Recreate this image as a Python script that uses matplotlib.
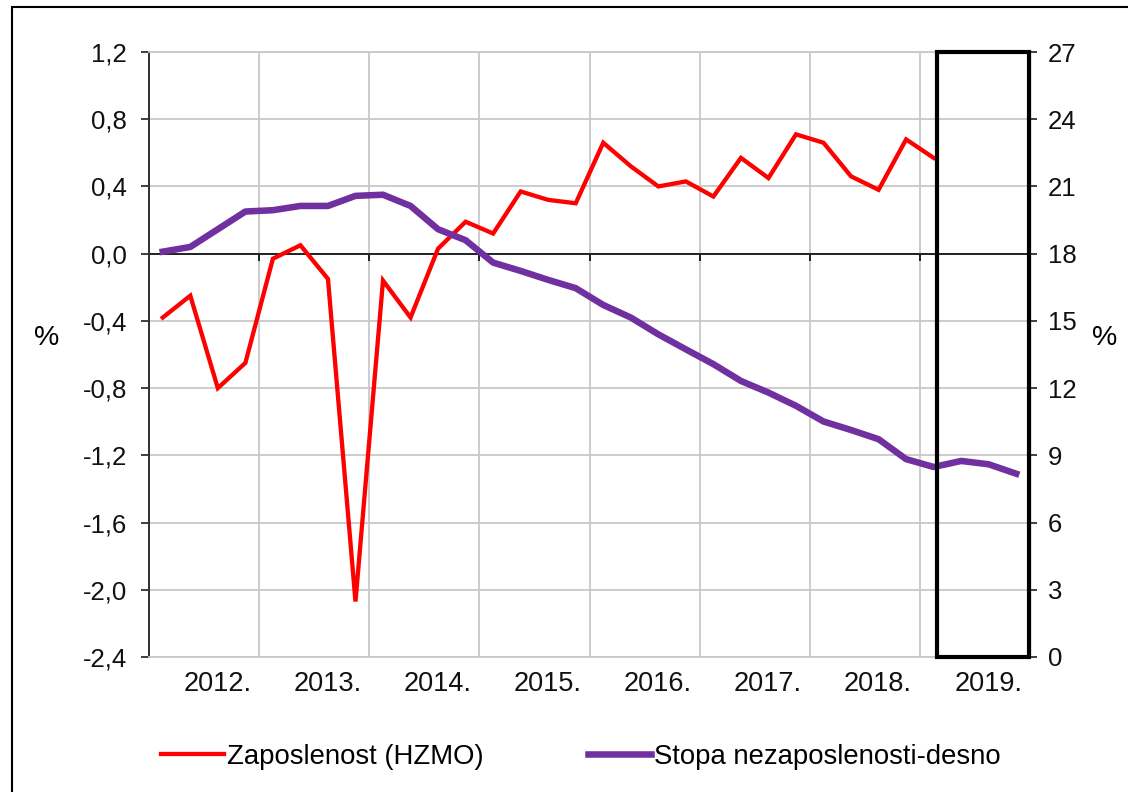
import matplotlib
matplotlib.use("Agg")
import matplotlib.pyplot as plt
from matplotlib.patches import Rectangle
from matplotlib.lines import Line2D
import numpy as np

plt.rcParams['font.family'] = ['Liberation Sans', 'DejaVu Sans']

# ---- data (quarterly, starting 2012 Q1) ----
years = [2012, 2013, 2014, 2015, 2016, 2017, 2018, 2019]
year_labels = ["2012.", "2013.", "2014.", "2015.", "2016.", "2017.", "2018.", "2019."]

zaposlenost = [-0.38, -0.25, -0.80, -0.65, -0.03, 0.05, -0.15, -2.07,
               -0.16, -0.38, 0.03, 0.19, 0.12, 0.37, 0.32, 0.30,
               0.66, 0.52, 0.40, 0.43, 0.34, 0.57, 0.45, 0.71,
               0.66, 0.46, 0.38, 0.68, 0.57]

stopa = [18.09, 18.30, 19.09, 19.88, 19.94, 20.13, 20.13, 20.58,
         20.63, 20.13, 19.09, 18.60, 17.60, 17.23, 16.83, 16.46,
         15.71, 15.15, 14.40, 13.73, 13.07, 12.32, 11.80, 11.21,
         10.51, 10.13, 9.72, 8.83, 8.48, 8.75, 8.60, 8.18]

left_ticks = [-2.4, -2.0, -1.6, -1.2, -0.8, -0.4, 0.0, 0.4, 0.8, 1.2]
right_ticks = [0, 3, 6, 9, 12, 15, 18, 21, 24, 27]

legend_labels = ["Zaposlenost (HZMO)", "Stopa nezaposlenosti-desno"]

# ---- figure ----
W, H = 1128, 792
fig = plt.figure(figsize=(W / 100, H / 100), dpi=100)
ax = fig.add_axes([149 / W, 1 - 657 / H, (1030 - 149) / W, (657 - 52) / H])

x_red = [years[0] + (i + 0.5) / 4 for i in range(len(zaposlenost))]
x_pur = [years[0] + (i + 0.5) / 4 for i in range(len(stopa))]

ax.set_xlim(years[0], years[-1] + 1)
ax.set_ylim(left_ticks[0], left_ticks[-1])

grid_c = '#c8c8c8'
for v in left_ticks:
    if v != 0:
        ax.axhline(v, color=grid_c, lw=1.3, zorder=0)
for y in years[1:]:
    ax.axvline(y, color=grid_c, lw=1.3, zorder=0)
ax.axhline(0, color='#202020', lw=1.4, zorder=1)
# small tick marks on the zero line at year boundaries
ax.vlines(years[1:] + [years[-1] + 1], -0.045, 0, color='#202020', lw=1.4, zorder=1)

ax.set_yticks(left_ticks)
ax.set_yticklabels([f"{v:.1f}".replace('.', ',').replace('-0,0', '0,0') for v in left_ticks])
ax.tick_params(axis='y', direction='out', length=6, width=1.3, color='#303030',
               labelsize=18.5, pad=10, labelcolor='#111111')
ax.set_xticks([])
for s in ['top', 'bottom', 'right']:
    ax.spines[s].set_color(grid_c)
    ax.spines[s].set_linewidth(1.3)
ax.spines['left'].set_color('#303030')
ax.spines['left'].set_linewidth(1.4)

# year labels below the plot
for y, lab in zip(years, year_labels):
    ax.text(y + 0.62, -0.045, lab, transform=ax.get_xaxis_transform(),
            ha='center', va='center', fontsize=19.5, color='#111111')

ax.plot(x_red, zaposlenost, color='#FF0000', lw=3.1, zorder=3, solid_joinstyle='miter')

ax2 = ax.twinx()
ax2.set_ylim(right_ticks[0], right_ticks[-1])
ax2.set_yticks(right_ticks)
ax2.set_yticklabels([str(v) for v in right_ticks])
ax2.tick_params(axis='y', direction='out', length=5, width=1.3, color='#303030',
                labelsize=18.5, pad=8, labelcolor='#111111')
for s in ['top', 'bottom', 'left']:
    ax2.spines[s].set_visible(False)
ax2.spines['right'].set_color('#303030')
ax2.plot(x_pur, stopa, color='#7030A0', lw=4.7, zorder=3, solid_joinstyle='round')

# highlight box for 2019
ax2.add_patch(Rectangle((years[-1] + 0.16, 0), 0.83, right_ticks[-1], fill=False,
                        edgecolor='black', lw=3.0, clip_on=False, zorder=5))

ax.set_ylabel('%', rotation=0, fontsize=20.5, va='center')
ax.yaxis.set_label_coords(-0.116, 0.527)
ax2.set_ylabel('%', rotation=0, fontsize=20.5, va='center')
ax2.yaxis.set_label_coords(1.085, 0.527)

handles = [Line2D([0], [0], color='#FF0000', lw=3.1),
           Line2D([0], [0], color='#7030A0', lw=4.7)]
fig.legend(handles, legend_labels, loc='center', bbox_to_anchor=(0.515, 1 - 757 / H),
           ncol=2, frameon=False, fontsize=19.8, handlelength=2.3, handletextpad=0.1,
           columnspacing=3.8)

# outer frame
fig.patches.append(Rectangle((12 / W, -0.05), 1.1, 1.05 - 7 / H, transform=fig.transFigure,
                             fill=False, edgecolor='black', lw=1.5, figure=fig))

fig.savefig('out.png', dpi=100)
